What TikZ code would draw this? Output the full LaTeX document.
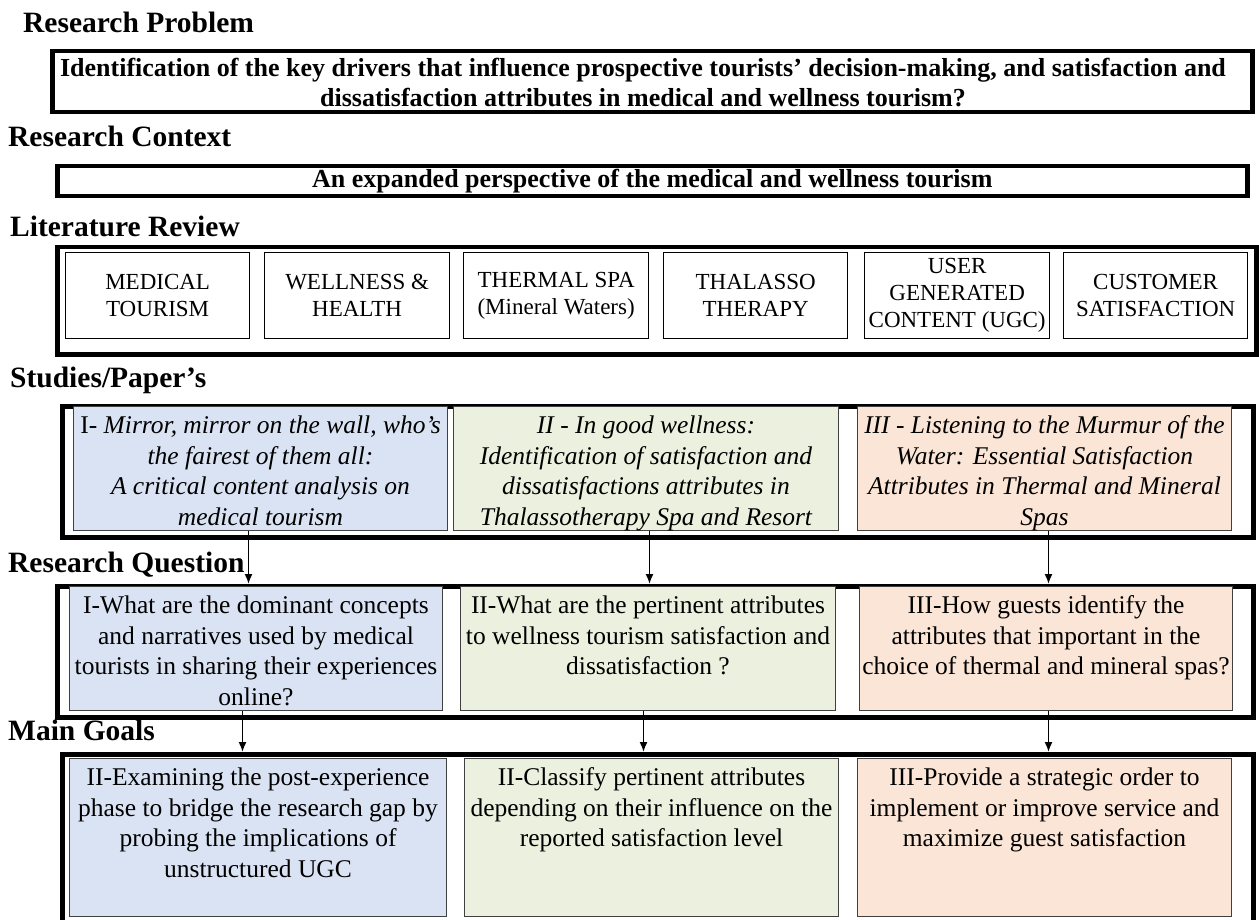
\documentclass[tikz,border=0pt]{standalone}
\usepackage{fontspec}
\setmainfont{Liberation Serif}
\usetikzlibrary{arrows.meta}

\definecolor{paleblue}{HTML}{DAE3F3}
\definecolor{palegreen}{HTML}{EBF0DF}
\definecolor{palepeach}{HTML}{FBE5D6}
\definecolor{edgegray}{HTML}{404040}

\newcommand\headsize{\fontsize{29.5}{32}\selectfont}
\newcommand\strongsize{\fontsize{26}{30}\selectfont}
\newcommand\litsize{\fontsize{23}{27}\selectfont}
\newcommand\bodysize{\fontsize{25.5}{30.5}\selectfont}
% top-aligned, centred text block of fixed height and width
\newcommand\celltext[3]{\parbox[c][#1][t]{#2}{\centering\bodysize\rule{0pt}{27pt}#3\par}}

\begin{document}
\begin{tikzpicture}[x=1pt,y=-1pt,
  heading/.style={anchor=west, inner sep=0pt, text height=21pt, text depth=6pt, font=\headsize\bfseries},
  frame/.style={draw=black, line width=4.5pt, anchor=north west, inner sep=0pt},
  topic/.style={draw=black, line width=1.3pt, anchor=north west, inner sep=0pt,
    align=center, font=\litsize, minimum height=86pt},
  cell/.style={draw=edgegray, line width=1pt, anchor=north west, inner sep=0pt},
  link/.style={line width=1.6pt, -{Latex[length=10pt,width=8pt]}},
]
\useasboundingbox (0,0) rectangle (1259,920);

% ---------------- section headings ----------------
\node[heading] (hprob) at (23,25)  {Research Problem};
\node[heading] (hctx)  at (8,139)  {Research Context};
\node[heading] (hlit)  at (10,229) {Literature Review};
\node[heading] (hpap)  at (10,380) {Studies/Paper’s};
\node[heading] (hque)  at (8,565)  {Research Question};
\node[heading] (hgoal) at (8,733)  {Main Goals};

% ---------------- research problem ----------------
\node[frame, minimum width=1200pt, minimum height=61pt] (fprob) at (50,49) {};
\node[align=center, font=\strongsize\bfseries, inner sep=0pt] (prob) at (643,83)
  {Identification of the key drivers that influence prospective tourists’ decision-making, and satisfaction and\\
   dissatisfaction attributes in medical and wellness tourism?};

% ---------------- research context ----------------
\node[frame, minimum width=1190pt, minimum height=30pt] (fctx) at (55,164) {};
\node[font=\strongsize\bfseries, inner sep=0pt] (ctx) at (fctx.center)
  {An expanded perspective of the medical and wellness tourism};

% ---------------- literature review ----------------
\node[frame, minimum width=1199pt, minimum height=107pt] (flit) at (55,245) {};
\node[topic, minimum width=184pt] (l1) at (65,252)   {MEDICAL\\TOURISM};
\node[topic, minimum width=185pt] (l2) at (264,252)  {WELLNESS \&\\HEALTH};
\node[topic, minimum width=185pt] (l3) at (463,252)  {THERMAL SPA\\(Mineral Waters)};
\node[topic, minimum width=184pt] (l4) at (663,252)  {THALASSO\\THERAPY};
\node[topic, minimum width=185pt] (l5) at (864,252)  {USER\\GENERATED\\CONTENT (UGC)};
\node[topic, minimum width=184pt] (l6) at (1063,252) {CUSTOMER\\SATISFACTION};

% ---------------- studies / papers ----------------
\node[frame, minimum width=1191pt, minimum height=131pt] (fpap) at (60,404) {};
\node[cell, fill=paleblue] (s1) at (73,406) {\celltext{124pt}{374pt}{%
  I- \textit{Mirror, mirror on the wall, who’s}\\
  \textit{the fairest of them all:}\\
  \textit{A critical content analysis on}\\
  \textit{medical tourism}}};
\node[cell, fill=palegreen] (s2) at (453,406) {\celltext{124pt}{385pt}{\itshape
  II - In good wellness:\\
  Identification of satisfaction and\\
  dissatisfactions attributes in\\
  Thalassotherapy Spa and Resort}};
\node[cell, fill=palepeach] (s3) at (857,406) {\celltext{124pt}{374pt}{\itshape
  III - Listening to the Murmur of the\\
  Water: Essential Satisfaction\\
  Attributes in Thermal and Mineral\\
  Spas}};

% ---------------- research questions ----------------
\node[frame, minimum width=1196pt, minimum height=131pt] (fque) at (55,584) {};
\node[cell, fill=paleblue] (q1) at (69,586) {\celltext{124pt}{373pt}{%
  I-What are the dominant concepts\\
  and narratives used by medical\\
  tourists in sharing their experiences\\
  online?}};
\node[cell, fill=palegreen] (q2) at (460,586) {\celltext{124pt}{375pt}{%
  II-What are the pertinent attributes\\
  to wellness tourism satisfaction and\\
  dissatisfaction ?}};
\node[cell, fill=palepeach] (q3) at (859,586) {\celltext{124pt}{373pt}{%
  III-How guests identify the\\
  attributes that important in the\\
  choice of thermal and mineral spas?}};

% ---------------- main goals ----------------
\node[frame, minimum width=1191pt, minimum height=183pt] (fgoal) at (60,752) {};
\node[cell, fill=paleblue] (g1) at (69,758) {\celltext{158pt}{377pt}{%
  II-Examining the post-experience\\
  phase to bridge the research gap by\\
  probing the implications of\\
  unstructured UGC}};
\node[cell, fill=palegreen] (g2) at (464,758) {\celltext{158pt}{374pt}{%
  II-Classify pertinent attributes\\
  depending on their influence on the\\
  reported satisfaction level}};
\node[cell, fill=palepeach] (g3) at (857,758) {\celltext{158pt}{374pt}{%
  III-Provide a strategic order to\\
  implement or improve service and\\
  maximize guest satisfaction}};

% ---------------- connectors ----------------
\coordinate (a1) at ([xshift=-12pt]s1.south);
\coordinate (a2) at ([xshift=3.5pt]s2.south);
\coordinate (a3) at ([xshift=4pt]s3.south);
\draw[link] (a1) -- (a1 |- fque.north);
\draw[link] (a2) -- (a2 |- fque.north);
\draw[link] (a3) -- (a3 |- fque.north);

\coordinate (b1) at ([xshift=-13.5pt]q1.south);
\coordinate (b2) at ([xshift=-4.5pt]q2.south);
\coordinate (b3) at ([xshift=2.5pt]q3.south);
\draw[link] (b1) -- (b1 |- fgoal.north);
\draw[link] (b2) -- (b2 |- fgoal.north);
\draw[link] (b3) -- (b3 |- fgoal.north);
\end{tikzpicture}
\end{document}
